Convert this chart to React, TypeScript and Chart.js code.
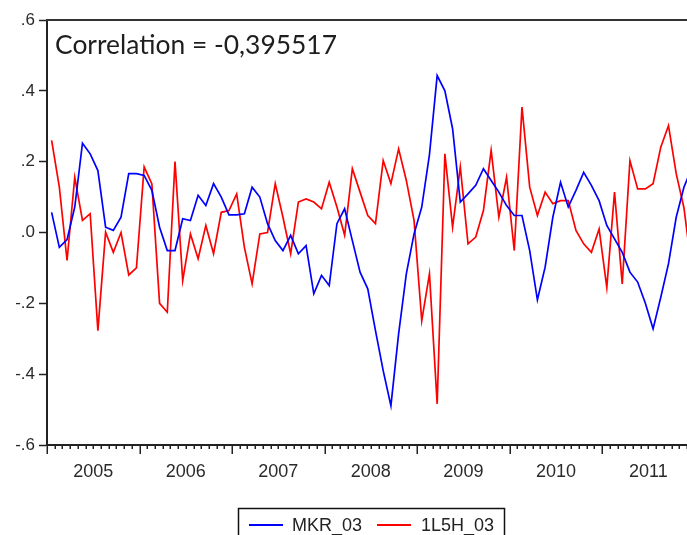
import React, { useEffect, useRef } from "react";
import { Chart, registerables } from "chart.js";

Chart.register(...registerables);

// Monthly observations starting 2005M01
const firstYear = 2005;
const yearLabels = ["2005", "2006", "2007", "2008", "2009", "2010", "2011"];
const yTickValues = [-0.6, -0.4, -0.2, 0, 0.2, 0.4, 0.6];
const seriesNames = ["MKR_03", "1L5H_03"];
const correlationText = "Correlation = -0,395517";

const mkr03 = [
  0.057, -0.042, -0.02, 0.072, 0.252, 0.222, 0.175, 0.015, 0.006, 0.043, 0.166, 0.166,
  0.161, 0.119, 0.015, -0.051, -0.051, 0.039, 0.034, 0.105, 0.076, 0.138, 0.1, 0.05,
  0.05, 0.053, 0.128, 0.1, 0.025, -0.023, -0.051, -0.008, -0.06, -0.037, -0.173, -0.121,
  -0.15, 0.025, 0.067, -0.023, -0.112, -0.159, -0.277, -0.39, -0.489, -0.286, -0.117, -0.004,
  0.072, 0.22, 0.443, 0.4, 0.293, 0.086, 0.109, 0.133, 0.18, 0.147, 0.114, 0.076,
  0.048, 0.048, -0.051, -0.19, -0.098, 0.043, 0.142, 0.072, 0.119, 0.17, 0.133, 0.09,
  0.02, -0.018, -0.056, -0.112, -0.14, -0.2, -0.272, -0.183, -0.088, 0.043, 0.128, 0.18,
];

const l5h03 = [
  0.26, 0.128, -0.079, 0.156, 0.034, 0.053, -0.277, 0.001, -0.056, 0.0, -0.12, -0.1,
  0.185, 0.137, -0.2, -0.225, 0.2, -0.136, -0.004, -0.074, 0.02, -0.06, 0.057, 0.062,
  0.109, -0.042, -0.145, -0.004, 0.0, 0.138, 0.043, -0.06, 0.086, 0.095, 0.086, 0.067,
  0.142, 0.072, -0.008, 0.18, 0.114, 0.048, 0.025, 0.203, 0.138, 0.236, 0.147, 0.034,
  -0.249, -0.117, -0.484, 0.222, 0.015, 0.185, -0.032, -0.013, 0.062, 0.232, 0.043, 0.156,
  -0.051, 0.354, 0.128, 0.048, 0.114, 0.081, 0.09, 0.09, 0.006, -0.032, -0.056, 0.01,
  -0.155, 0.114, -0.145, 0.203, 0.123, 0.123, 0.138, 0.241, 0.302, 0.166, 0.07, -0.1,
];

const MONTH_OFFSET = 0.6;
const X_MAX = 83;

const toPoints = (arr: number[]) => arr.map((v, i) => ({ x: i + MONTH_OFFSET, y: v }));

const fmtY = (v: number) => Number(v).toFixed(1).replace(/^(-?)0\./, "$1.");

const decorPlugin = {
  id: "decor",
  afterDraw(chart: any) {
    const { ctx, chartArea: a, scales } = chart;
    const x = scales.x;
    ctx.save();
    // top frame line
    ctx.strokeStyle = "#333";
    ctx.lineWidth = 2;
    ctx.beginPath();
    ctx.moveTo(a.left - 1, a.top);
    ctx.lineTo(a.right, a.top);
    ctx.stroke();
    // x-axis ticks: month minor, year major
    ctx.strokeStyle = "#222";
    ctx.lineWidth = 1.5;
    ctx.beginPath();
    for (let m = 0; m <= X_MAX + 1; m++) {
      const px = x.getPixelForValue(m);
      if (px > a.right + 0.5) break;
      const len = m % 12 === 0 ? 9 : 4;
      const xx = Math.round(px) + 0.25;
      ctx.moveTo(xx, a.bottom);
      ctx.lineTo(xx, a.bottom + len);
    }
    ctx.stroke();
    // correlation text
    const fam = "Lato, 'Open Sans', sans-serif";
    ctx.font = `20px ${fam}`;
    const w20 = ctx.measureText(correlationText).width;
    const size = (20 * 282) / w20;
    ctx.font = `${size.toFixed(2)}px ${fam}`;
    ctx.fillStyle = "#1e1e1e";
    ctx.textBaseline = "alphabetic";
    ctx.textAlign = "left";
    ctx.fillText(correlationText, 55, 54);
    // legend
    const ds = chart.data.datasets;
    ctx.strokeStyle = "#111";
    ctx.lineWidth = 1.5;
    ctx.strokeRect(238.5, 508.5, 266, 40);
    ctx.font = "18px 'Liberation Sans', Arial, sans-serif";
    ctx.fillStyle = "#222";
    const items = [
      { x0: 249, x1: 283, tx: 292 },
      { x0: 377, x1: 411, tx: 421 },
    ];
    items.forEach((it, i) => {
      ctx.strokeStyle = ds[i].borderColor;
      ctx.lineWidth = 2;
      ctx.beginPath();
      ctx.moveTo(it.x0, 525);
      ctx.lineTo(it.x1, 525);
      ctx.stroke();
      ctx.fillText(ds[i].label, it.tx, 531);
    });
    ctx.restore();
  },
};

export default function App() {
  const ref = useRef<HTMLCanvasElement | null>(null);
  useEffect(() => {
    if (!ref.current) return;
    const chart = new Chart(ref.current, {
      type: "line",
      data: {
        datasets: [
          {
            label: seriesNames[0],
            data: toPoints(mkr03),
            borderColor: "#0000ff",
            borderWidth: 1.7,
            pointRadius: 0,
            tension: 0,
          },
          {
            label: seriesNames[1],
            data: toPoints(l5h03),
            borderColor: "#ff0000",
            borderWidth: 1.7,
            pointRadius: 0,
            tension: 0,
          },
        ],
      },
      options: {
        animation: false,
        responsive: false,
        layout: { padding: { top: 20, right: 0, bottom: 0, left: 0 } },
        plugins: {
          legend: { display: false },
          tooltip: { enabled: false },
          title: { display: false },
        },
        scales: {
          x: {
            type: "linear",
            min: 0,
            max: X_MAX,
            afterBuildTicks: (s: any) => {
              s.ticks = yearLabels.map((_, i) => ({ value: i * 12 + 6 }));
            },
            afterFit: (s: any) => {
              s.height = 90;
            },
            grid: { display: false },
            border: { display: true, color: "#222", width: 2 },
            ticks: {
              autoSkip: false,
              maxRotation: 0,
              padding: 8,
              color: "#2a2a2a",
              font: { family: "'Liberation Sans', Arial, sans-serif", size: 18 },
              callback: (v: any) => yearLabels[Math.round((Number(v) - 6) / 12)] ?? String(firstYear),
            },
          },
          y: {
            type: "linear",
            min: -0.6,
            max: 0.6,
            afterBuildTicks: (s: any) => {
              s.ticks = yTickValues.map((v) => ({ value: v }));
            },
            afterFit: (s: any) => {
              s.width = 47;
            },
            grid: {
              display: true,
              drawOnChartArea: false,
              drawTicks: true,
              tickLength: 8,
              tickColor: "#222",
              tickWidth: 1.5,
            },
            border: { display: true, color: "#222", width: 2 },
            ticks: {
              padding: 4,
              color: "#2a2a2a",
              font: { family: "'Liberation Sans', Arial, sans-serif", size: 17 },
              callback: (v: any) => fmtY(Number(v)),
            },
          },
        },
      },
      plugins: [decorPlugin],
    });
    return () => chart.destroy();
  }, []);
  return (
    <div style={{ position: "fixed", left: 0, top: 0, width: 687, height: 535, background: "#fff" }}>
      <canvas ref={ref} width={687} height={535} />
    </div>
  );
}
